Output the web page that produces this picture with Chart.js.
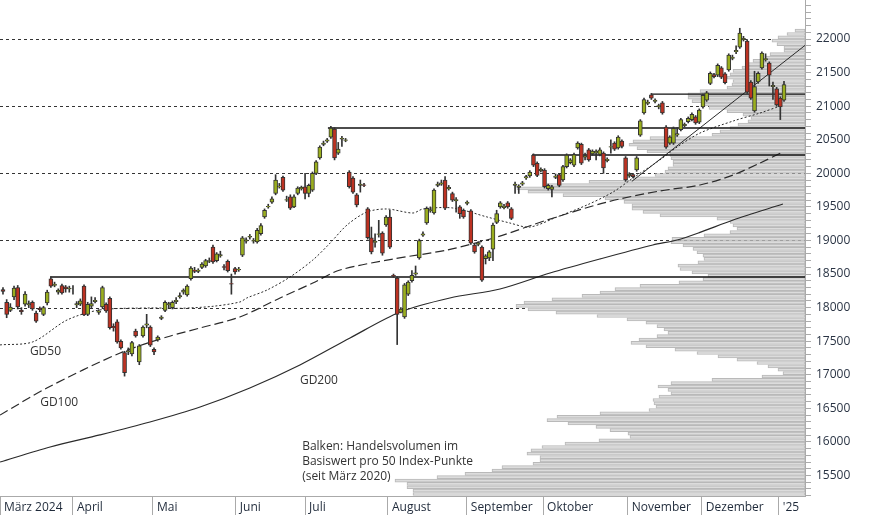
<!DOCTYPE html>
<html><head><meta charset="utf-8">
<script src="https://cdn.jsdelivr.net/npm/chart.js@4"></script>
<style>html,body{margin:0;padding:0;background:#fff}#wrap{width:874px;height:515px}</style>
</head><body><div id="wrap"><canvas id="c"></canvas></div>
<script>
// Candles (trading-day index 0..212, März 2024 – 2. Jan 2025)
const openV=[18270,18080,17960,18160,18300,17960,18050,18040,18080,17920,
17990,17900,18070,18430,18330,18230,18330,18310,18280,18280,
18040,18050,18320,17900,18020,18090,17930,18010,18050,18140,
17720,17790,17500,17330,17340,17310,17650,17190,17580,17740,
17710,17380,17520,17840,17960,18040,18000,18090,18160,18230,
18190,18430,18560,18540,18600,18620,18690,18900,18700,18770,
18610,18690,18360,18580,18560,18780,18990,19050,18990,18980,
19100,19350,19500,19570,19700,19800,19940,19600,19650,19500,
19700,19770,19800,19700,19750,20000,20230,20430,20480,20540,
20660,20300,20510,20490,20020,19930,19680,19820,19830,19470,
19040,18970,19090,19110,19230,19350,18480,18440,17930,17860,
18200,18400,18500,18740,19080,19260,19440,19410,19820,19840,
19900,19770,19700,19590,19500,19450,19550,19440,18930,18940,
18900,18730,18740,18870,19270,19500,19490,19560,19470,19820,
19790,19840,19930,19960,20270,20150,20040,20050,19770,19760,
19940,19980,19900,20100,20160,20120,20380,20430,20240,20350,
20290,20300,20280,20300,20190,20390,20450,20380,20480,20230,
19960,19980,20050,20570,20900,21040,21170,21070,20990,21050,
20690,20450,20450,20570,20650,20710,20770,20800,20840,20760,
20990,21090,21340,21470,21460,21570,21480,21540,21710,21810,
21880,21990,21970,21360,20930,21360,21570,21690,21640,21290,
21260,21120,21090];
const closeV=[18240,17900,18010,18290,18010,17940,18200,18060,17980,17800,
17970,18000,18230,18320,18350,18260,18220,18280,18290,18280,
18060,18100,17890,18050,18060,18110,17950,18300,17950,17700,
17700,17490,17400,17030,17360,17480,17580,17430,17710,17760,
17440,17340,17560,17860,18080,18060,18080,18110,18180,18260,
18320,18590,18540,18560,18650,18700,18700,18680,18800,18790,
18600,18550,18350,18530,18570,19040,19010,19060,19000,19150,
19220,19450,19510,19620,19900,19810,19750,19610,19480,19650,
19780,19790,19700,19820,20000,20170,20390,20450,20500,20675,
20230,20360,20520,20500,19800,19720,19530,19840,19820,19040,
18830,18990,19100,18810,19350,18900,18470,17900,17980,18340,
18380,18480,18520,19000,19100,19480,19460,19750,19840,19860,
19480,19790,19600,19610,19400,19350,19570,18960,18830,18960,
18410,18770,18830,19230,19400,19560,19510,19500,19330,19840,
19810,19860,19950,20020,20120,19970,20060,19800,19820,19800,
19960,19820,20100,20270,20200,20280,20450,20150,20260,20200,
20330,20330,20350,20080,20210,20400,20360,20540,20400,19900,
19990,19950,20230,20780,21100,21060,21120,21090,21010,20900,
20390,20540,20670,20590,20800,20730,20820,20880,20750,20940,
21160,21200,21490,21440,21610,21430,21350,21760,21730,21830,
22090,22010,21210,21120,21290,21490,21790,21710,21460,21310,
21020,20990,21320];
const highV=[18300,18120,18060,18320,18330,18000,18240,18100,18100,17950,
18010,18020,18260,18460,18380,18280,18350,18330,18320,18330,
18090,18130,18340,18080,18160,18150,17970,18320,18070,18160,
17760,17820,17520,17350,17400,17500,17680,17450,17730,17900,
17730,17400,17580,17880,18100,18080,18100,18150,18220,18280,
18340,18610,18600,18580,18670,18720,18740,18930,18820,18840,
18640,18710,18500,18600,18600,19060,19040,19090,19030,19180,
19250,19470,19540,19650,19980,19850,19960,19660,19680,19680,
19800,19810,20000,19840,20020,20190,20410,20480,20520,20700,
20680,20460,20550,20520,20040,19950,19700,19900,19850,19490,
19200,19100,19300,19130,19370,19450,18500,18460,18000,18360,
18400,18550,18620,19020,19130,19500,19500,19770,19870,19900,
19950,19820,19720,19640,19520,19470,19590,19460,18950,18980,
18920,18790,18850,19260,19450,19580,19540,19580,19490,19870,
19830,19880,19970,20040,20290,20170,20080,20070,19840,19820,
19990,20000,20120,20290,20220,20300,20470,20450,20300,20370,
20350,20350,20380,20320,20230,20500,20470,20560,20500,20250,
20010,20000,20250,20800,21120,21090,21190,21110,21030,21070,
20710,20560,20690,20680,20820,20750,20840,20900,20860,20960,
21180,21220,21510,21490,21630,21590,21500,21780,21760,21900,
22160,22040,21990,21380,21520,21510,21810,21780,21660,21360,
21280,21140,21370];
const lowV=[18200,17850,17940,18120,17980,17900,18020,18000,17960,17780,
17940,17880,18040,18300,18310,18200,18200,18230,18230,18200,
18000,18030,17880,17880,18000,18070,17900,17990,17930,17680,
17650,17470,17380,16980,17300,17280,17560,17150,17560,17700,
17420,17300,17500,17820,17940,18000,17980,18060,18140,18200,
18170,18410,18520,18520,18580,18600,18670,18660,18680,18750,
18560,18530,18200,18500,18540,18760,18960,19020,18960,18960,
19080,19330,19480,19550,19680,19780,19730,19580,19460,19490,
19680,19750,19620,19650,19730,19980,20210,20410,20460,20520,
20200,20280,20400,20470,19780,19700,19500,19720,19800,19020,
18800,18900,19050,18780,19210,18880,18450,17450,17920,17840,
18180,18380,18480,18720,19060,19240,19420,19390,19800,19820,
19460,19750,19580,19420,19330,19330,19530,18940,18810,18920,
18390,18650,18700,18700,19250,19480,19470,19480,19310,19700,
19700,19820,19910,19940,20100,19950,20020,19780,19750,19650,
19920,19800,19880,20080,20140,20100,20360,20130,20200,20180,
20270,20200,20260,20000,20170,20300,20340,20360,20380,19880,
19940,19930,20030,20550,20880,21020,21100,21050,20960,20880,
20370,20430,20430,20550,20630,20690,20750,20780,20730,20740,
20970,21070,21320,21420,21440,21410,21330,21520,21690,21780,
21860,21970,21190,21100,20910,21340,21550,21670,21300,21100,
21000,20800,21070];
// Moving averages: [index, value]
const gd50Idx=[-0.8,8.1,17.4,26.3,39.9,48,57,64.3,66.2,71.7,77.9,84.1,88.8,93.4,98.8,104.2,111.3,114,122.1,131.4,137.6,143,150.4,158.5,165.6,171,178.3,183,189.2,198.2,205.5,211.7];
const gd50Val=[17445,17490,17816,17965,17995,17990,18020,18084,18144,18263,18456,18709,18962,19231,19424,19469,19409,19469,19484,19350,19260,19200,19350,19528,19722,19930,20198,20392,20600,20779,20898,21017];
const gd100Idx=[-0.8,11.9,31.8,44.5,53.5,64.3,75.2,84.1,91.5,105.9,120.5,134.1,147.7,164,178.3,189.2,198.2,205.5,211.7];
const gd100Val=[16400,16803,17325,17563,17697,17861,18144,18367,18560,18724,18858,19052,19305,19573,19737,19826,19975,20154,20317];
const gd200Idx=[-0.8,12.8,26.3,39.9,53.5,67,80.6,94.2,107.8,121.3,134.9,148.5,162,176.4,183,189.2,198.2,211.7];
const gd200Val=[15701,15925,16104,16297,16520,16803,17146,17548,17935,18144,18278,18516,18724,18933,19007,19120,19305,19543];
// Resistance / support lines
const hLevels=[18456,20675,20273,21180];
const hStartIdx=[12.8,88.2,143.6,175.9];
const trendIdx=[170.7,217.7];
const trendVal=[19880,21905];
// Volume profile per 50 points from 15200 (relative length)
const volLevelStart=15200, volStep=50;
const volumes=[392,392,398,398,410,368,
340,313,303,272,265,265,278,274,263,240,
206,175,177,195,209,237,258,248,205,156,
149,151,152,146,134,137,147,134,93,43,
22,27,37,48,68,87,108,130,159,174,
166,148,137,141,148,159,178,208,249,277,
289,281,253,223,205,190,165,126,102,97,
113,125,127,107,101,102,108,112,122,134,
133,101,75,68,72,75,88,145,162,173,
173,181,200,242,277,288,258,216,172,150,
140,137,132,132,134,135,158,168,176,172,
155,93,85,75,67,57,54,62,78,96,
102,113,117,117,105,78,73,72,78,75,
72,63,58,52,40,35,21,21,28,33,
27,18,10];
// Axis
const monthLabels=["März 2024","April","Mai","Juni","Juli","August","September","Oktober","November","Dezember","'25"];
const monthIdx=[-0.81,19.0,40.7,63.2,82.0,104.5,125.9,146.6,169.6,189.7,210.6];
const gridLevels=[18000,19000,20000,21000,22000];
const yTickStep=100, yLabelStep=500, yLabelMin=15500, yLabelMax=22000;
const X_MIN=-0.81, X_MAX=217.7, Y_MIN=15195, Y_MAX=22581;

const GREEN='#9aae1e', RED='#bd3222', INK='#2a2a2a';
const FONT='"Open Sans", "Noto Sans", sans-serif';

const wickData=openV.map((o,i)=>({x:i,y:[lowV[i],highV[i]]}));
const bodyData=openV.map((o,i)=>({x:i,y:[Math.min(o,closeV[i]),Math.max(o,closeV[i])]}));
const bodyColors=openV.map((o,i)=>closeV[i]>=o?GREEN:RED);
const volData=volumes.map((v,i)=>({x:v,y:volLevelStart+i*volStep+volStep/2}));
const pts=(a,b)=>a.map((x,i)=>({x:x,y:b[i]}));

const datasets=[
 {type:'bar',label:'wick',data:wickData,backgroundColor:'#333',barThickness:1,grouped:false,order:1},
 {type:'bar',label:'body',data:bodyData,backgroundColor:bodyColors,borderColor:'#333',borderWidth:1,borderSkipped:false,barThickness:4,grouped:false,order:0},
 {type:'bar',label:'vol',indexAxis:'y',xAxisID:'xv',yAxisID:'y',data:volData,backgroundColor:'#dcdcdc',borderColor:'#b9b9b9',borderWidth:1,borderSkipped:false,barThickness:3,grouped:false,order:20},
 {type:'line',data:pts(gd50Idx,gd50Val),borderColor:INK,borderWidth:1,borderDash:[2,2],pointRadius:0,tension:0.3,order:5},
 {type:'line',data:pts(gd100Idx,gd100Val),borderColor:INK,borderWidth:1.2,borderDash:[9,4],pointRadius:0,tension:0.3,order:5},
 {type:'line',data:pts(gd200Idx,gd200Val),borderColor:INK,borderWidth:1.2,pointRadius:0,tension:0.3,order:5},
 {type:'line',data:pts(trendIdx,trendVal),borderColor:INK,borderWidth:1,pointRadius:0,order:5},
];
hLevels.forEach((lv,i)=>datasets.push({type:'line',data:[{x:hStartIdx[i],y:lv},{x:X_MAX,y:lv}],borderColor:'#111',borderWidth:1.3,pointRadius:0,order:4}));

const gridPlugin={id:'dgrid',beforeDatasetsDraw(chart){
 const c=chart.ctx,a=chart.chartArea,ys=chart.scales.y;
 c.save();c.strokeStyle='#333';c.lineWidth=1;c.setLineDash([3,3]);
 gridLevels.forEach(v=>{const y=Math.round(ys.getPixelForValue(v))+0.5;c.beginPath();c.moveTo(a.left,y);c.lineTo(a.right,y);c.stroke();});
 c.restore();
}};
const textPlugin={id:'texts',afterDraw(chart){
 const c=chart.ctx,xs=chart.scales.x,ys=chart.scales.y;
 c.save();c.fillStyle='#333';c.font='12px '+FONT;c.textBaseline='middle';c.textAlign='left';
 c.fillText('GD50',xs.getPixelForValue(7.3),ys.getPixelForValue(17339));
 c.fillText('GD100',xs.getPixelForValue(10.1),ys.getPixelForValue(16580));
 c.fillText('GD200',xs.getPixelForValue(80.6),ys.getPixelForValue(16908));
 const bx=xs.getPixelForValue(81.2);
 ['Balken: Handelsvolumen im','Basiswert pro 50 Index-Punkte','(seit März 2020)'].forEach((t,k)=>c.fillText(t,bx,ys.getPixelForValue(15925)+k*15));
 c.fillStyle='#1f2a3a';
 monthLabels.forEach((m,i)=>c.fillText(m,xs.getPixelForValue(monthIdx[i])+4,508));
 c.restore();
}};

new Chart(document.getElementById('c'),{
 type:'bar',
 data:{datasets},
 options:{responsive:true,maintainAspectRatio:false,animation:false,
  layout:{padding:0},
  plugins:{legend:{display:false},tooltip:{enabled:false}},
  scales:{
   x:{type:'linear',min:X_MIN,max:X_MAX,offset:false,
      afterBuildTicks(s){s.ticks=monthIdx.map(v=>({value:v}));},
      afterFit(s){s.height=19;s.paddingLeft=0;s.paddingRight=0;},
      ticks:{display:false},
      grid:{offset:false,drawOnChartArea:false,tickLength:19,tickColor:'#aaa'},
      border:{color:'#aaa'}},
   xv:{type:'linear',min:0,max:805,reverse:true,display:false,offset:false},
   y:{type:'linear',position:'right',min:Y_MIN,max:Y_MAX,offset:false,
      afterBuildTicks(s){const t=[];for(let v=15200;v<=22500;v+=yTickStep)t.push({value:v});s.ticks=t;},
      afterFit(s){s.width=69;s.paddingTop=0;s.paddingBottom=0;},
      ticks:{autoSkip:false,padding:5,color:'#2a3444',font:{size:12,family:FONT},
        callback:v=>(v%yLabelStep===0&&v>=yLabelMin&&v<=yLabelMax)?String(v):''},
      grid:{offset:false,drawOnChartArea:false,tickColor:'#aaa',tickLength:6},
      border:{color:'#aaa'}}
  }
 },
 plugins:[gridPlugin,textPlugin]
});
</script></body></html>
